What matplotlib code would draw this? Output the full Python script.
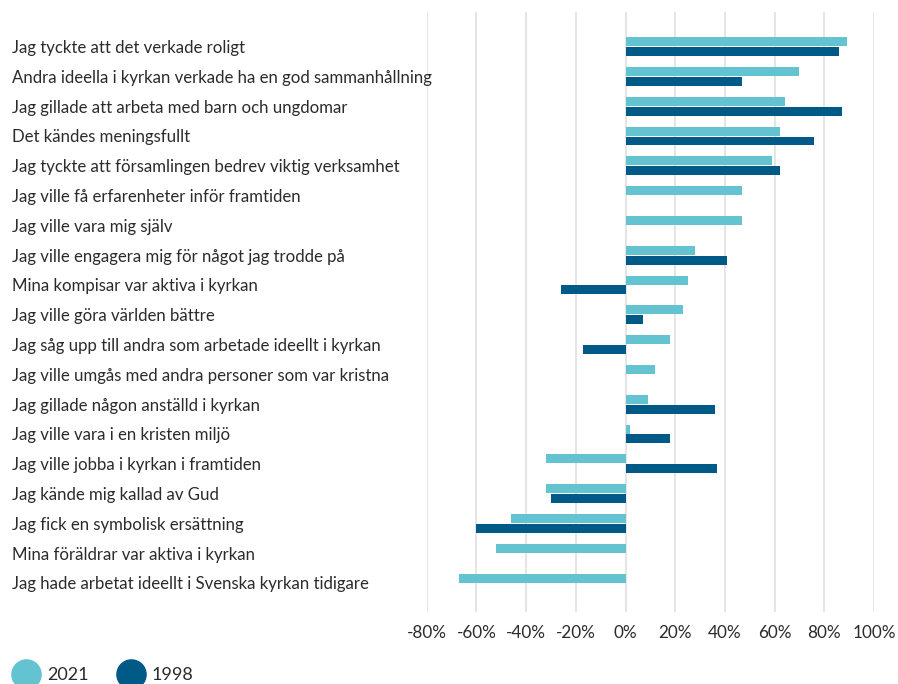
import matplotlib
matplotlib.use("Agg")
import matplotlib.pyplot as plt
from matplotlib.lines import Line2D
import numpy as np

plt.rcParams['font.family'] = ['Lato', 'DejaVu Sans']

categories = [
    "Jag tyckte att det verkade roligt",
    "Andra ideella i kyrkan verkade ha en god sammanhållning",
    "Jag gillade att arbeta med barn och ungdomar",
    "Det kändes meningsfullt",
    "Jag tyckte att församlingen bedrev viktig verksamhet",
    "Jag ville få erfarenheter inför framtiden",
    "Jag ville vara mig själv",
    "Jag ville engagera mig för något jag trodde på",
    "Mina kompisar var aktiva i kyrkan",
    "Jag ville göra världen bättre",
    "Jag såg upp till andra som arbetade ideellt i kyrkan",
    "Jag ville umgås med andra personer som var kristna",
    "Jag gillade någon anställd i kyrkan",
    "Jag ville vara i en kristen miljö",
    "Jag ville jobba i kyrkan i framtiden",
    "Jag kände mig kallad av Gud",
    "Jag fick en symbolisk ersättning",
    "Mina föräldrar var aktiva i kyrkan",
    "Jag hade arbetat ideellt i Svenska kyrkan tidigare",
]
values_2021 = [89, 70, 64, 62, 59, 47, 47, 28, 25, 23, 18, 12, 9, 2, -32, -32, -46, -52, -67]
values_1998 = [86, 47, 87, 76, 62, 0, 0, 41, -26, 7, -17, 0, 36, 18, 37, -30, -60, 0, 0]
xticks = [-80, -60, -40, -20, 0, 20, 40, 60, 80, 100]
xtick_labels = ["-80%", "-60%", "-40%", "-20%", "0%", "20%", "40%", "60%", "80%", "100%"]
series_names = ["2021", "1998"]

c2021 = "#64C3D1"
c1998 = "#005A87"
text_color = "#2b2b2b"

W, H = 898, 684
fig = plt.figure(figsize=(W / 100, H / 100), dpi=100)
ax = fig.add_axes([426.7 / W, 1 - 612 / H, (874 - 426.7) / W, 600 / H])

y = np.arange(len(categories))
h = 0.30
ax.barh(y - 0.16, values_2021, height=h, color=c2021, zorder=3)
ax.barh(y + 0.17, values_1998, height=h, color=c1998, zorder=3)

ax.set_xlim(-80, 100)
ax.set_ylim(18.98, -1.16)
ax.set_xticks(xticks)
ax.set_xticklabels(xtick_labels, fontsize=12.3, color=text_color)
ax.set_yticks(y)
ax.set_yticklabels(categories, fontsize=12.1, color=text_color, ha='left')
ax.tick_params(axis='y', length=0, pad=(426.7 - 12) * 0.72)
ax.tick_params(axis='x', length=0, pad=9.5)
for s in ax.spines.values():
    s.set_visible(False)
ax.grid(axis='x', color="#e0e0e0", linewidth=1.2, zorder=0)
ax.set_axisbelow(True)

handles = [Line2D([], [], marker='o', linestyle='none', markersize=21, color=c)
           for c in (c2021, c1998)]
fig.legend(handles, series_names, loc='center left', bbox_to_anchor=(1 / W, 1 - 675 / H),
           frameon=False, fontsize=13, handletextpad=0.15, columnspacing=1.35, ncol=2,
           labelcolor=text_color, borderaxespad=0)

fig.savefig("out.png", dpi=100)
